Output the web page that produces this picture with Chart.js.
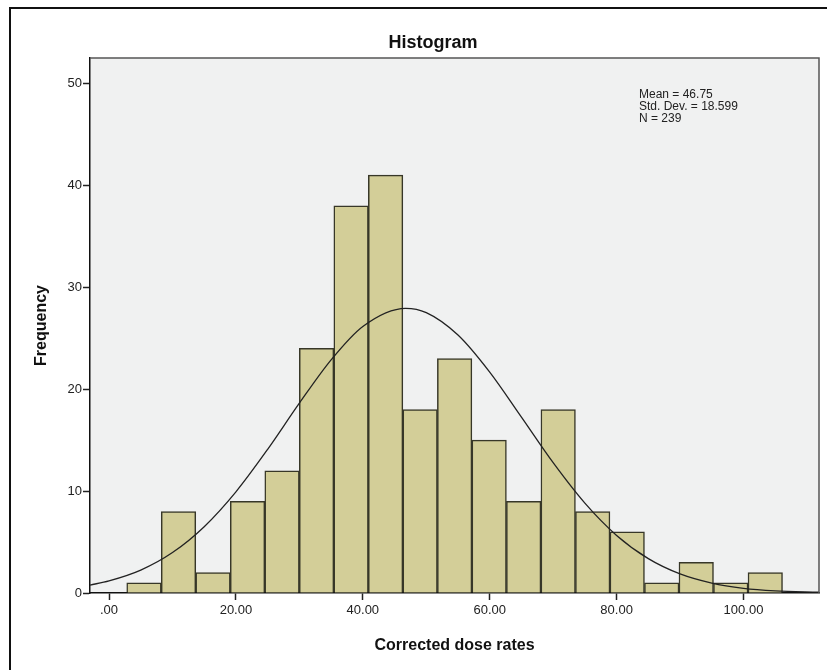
<!DOCTYPE html>
<html lang="en">
<head>
    <meta charset="UTF-8" />
    <title>Histogram</title>
    <style>
        html, body {
            margin: 0;
            padding: 0;
            background: #ffffff;
        }
        #wrap {
            width: 827px;
            height: 670px;
        }
    </style>
    <script src="https://cdn.jsdelivr.net/npm/chart.js"></script>
</head>
<body>
<div id="wrap">
    <canvas id="histChart" width="827" height="670"></canvas>
</div>

<script>
  // bin centres (bin width ~5.44) and counts
  const binCenters = [5.51, 10.95, 16.39, 21.83, 27.27, 32.71, 38.15, 43.59, 49.03, 54.47,
                      59.91, 65.35, 70.79, 76.23, 81.67, 87.11, 92.55, 97.99, 103.43];
  const counts = [1, 8, 2, 9, 12, 24, 38, 41, 18, 23, 15, 9, 18, 8, 6, 1, 3, 1, 2];

  // normal curve
  const curveX = [-3, 0, 5, 10, 15, 20, 25, 30, 35, 40, 46.75, 50, 55, 60, 65, 70, 75, 80, 85, 90, 95, 100, 105, 112];
  const curveY = [0.78, 1.19, 2.25, 3.97, 6.51, 9.93, 14.1, 18.63, 22.88, 26.16, 27.94, 27.52, 25.32,
                  21.68, 17.26, 12.79, 8.82, 5.65, 3.37, 1.87, 0.97, 0.46, 0.21, 0.07];

  const statsLines = ["Mean = 46.75", "Std. Dev. = 18.599", "N = 239"];
  const xTicks = [0, 20, 40, 60, 80, 100];
  const yTicks = [0, 10, 20, 30, 40, 50];

  const FONT = "'Liberation Sans', Arial, sans-serif";

  const framePlugin = {
    id: "frame",
    beforeDraw(chart) {
      const { ctx, chartArea: a } = chart;
      ctx.save();
      ctx.fillStyle = "#f0f1f1";
      ctx.fillRect(a.left, a.top, a.right - a.left, a.bottom - a.top);
      ctx.restore();
    },
    afterDraw(chart) {
      const { ctx, chartArea: a } = chart;
      ctx.save();
      // outer frame (left + top only, rest is cut off)
      ctx.strokeStyle = "#111";
      ctx.lineWidth = 2;
      ctx.beginPath();
      ctx.moveTo(10, 670);
      ctx.lineTo(10, 8);
      ctx.lineTo(827, 8);
      ctx.stroke();

      // plot frame top/right
      ctx.strokeStyle = "#555";
      ctx.lineWidth = 1.5;
      ctx.beginPath();
      ctx.moveTo(a.left, a.top);
      ctx.lineTo(a.right, a.top);
      ctx.lineTo(a.right, a.bottom);
      ctx.stroke();

      // title
      ctx.fillStyle = "#111";
      ctx.font = "bold 18px " + FONT;
      ctx.textAlign = "center";
      ctx.textBaseline = "alphabetic";
      ctx.fillText("Histogram", 433, 48);

      // stats box
      ctx.font = "12px " + FONT;
      ctx.textAlign = "left";
      ctx.fillStyle = "#222";
      statsLines.forEach((t, i) => ctx.fillText(t, 639, 98 + i * 12));
      ctx.restore();
    },
  };

  const ctx = document.getElementById("histChart").getContext("2d");
  new Chart(ctx, {
    type: "bar",
    data: {
      datasets: [
        {
          type: "line",
          data: curveX.map((x, i) => ({ x: x, y: curveY[i] })),
          borderColor: "#222",
          borderWidth: 1.3,
          pointRadius: 0,
          fill: false,
          cubicInterpolationMode: "monotone",
          order: 0,
        },
        {
          type: "bar",
          data: binCenters.map((x, i) => ({ x: x, y: counts[i] })),
          backgroundColor: "rgb(211, 206, 152)",
          borderColor: "rgb(55, 55, 40)",
          borderWidth: 1.5,
          borderSkipped: "bottom",
          categoryPercentage: 1,
          barPercentage: 1,
          order: 1,
        },
      ],
    },
    options: {
      responsive: false,
      animation: false,
      layout: {
        padding: { top: 58, right: 8, left: 0, bottom: 0 },
      },
      scales: {
        x: {
          type: "linear",
          offset: false,
          min: -3,
          max: 111.9,
          afterFit: (s) => { s.height = 77; },
          afterBuildTicks: (s) => { s.ticks = xTicks.map((v) => ({ value: v })); },
          grid: {
            offset: false,
            drawOnChartArea: false,
            drawTicks: true,
            tickLength: 7,
            tickColor: "#222",
            tickWidth: 1.5,
          },
          border: { color: "#111", width: 1.5 },
          ticks: {
            color: "#222",
            padding: 3,
            maxRotation: 0,
            font: { family: FONT, size: 13 },
            callback: (v) => (v === 0 ? ".00" : v.toFixed(2)),
          },
          title: {
            display: true,
            text: "Corrected dose rates",
            color: "#111",
            font: { family: FONT, size: 16, weight: "bold" },
            padding: { top: 0, bottom: 15 },
          },
        },
        y: {
          min: 0,
          max: 52.5,
          afterFit: (s) => { s.width = 90; },
          afterBuildTicks: (s) => { s.ticks = yTicks.map((v) => ({ value: v })); },
          grid: {
            drawOnChartArea: false,
            drawTicks: true,
            tickLength: 7,
            tickColor: "#222",
            tickWidth: 1.5,
          },
          border: { color: "#111", width: 1.5 },
          ticks: {
            color: "#222",
            padding: 1,
            font: { family: FONT, size: 13 },
          },
          title: {
            display: true,
            text: "Frequency",
            color: "#111",
            font: { family: FONT, size: 16, weight: "bold" },
            padding: { top: 32, bottom: 0 },
          },
        },
      },
      plugins: {
        legend: { display: false },
        tooltip: { enabled: false },
      },
    },
    plugins: [framePlugin],
  });
</script>

</body>
</html>
